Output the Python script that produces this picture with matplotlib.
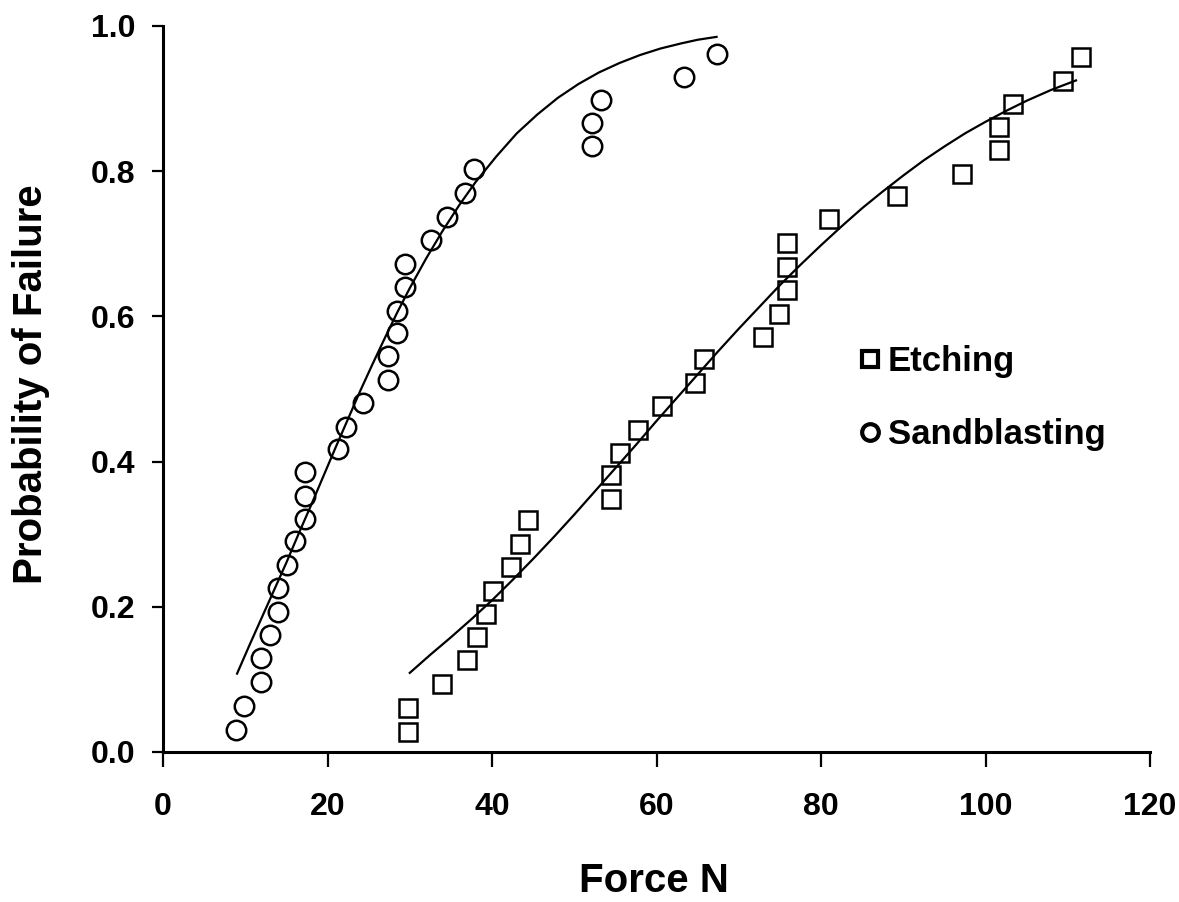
import matplotlib
matplotlib.use("Agg")
import matplotlib.pyplot as plt
from matplotlib.lines import Line2D

# ---- data ----
sand_force = [8.9, 9.9, 11.9, 11.9, 13.0, 14.0, 14.0, 15.1, 16.1, 17.2, 17.2, 17.2,
              21.3, 22.3, 24.3, 27.4, 27.4, 28.5, 28.5, 29.4, 29.4, 32.6, 34.5, 36.7,
              37.8, 52.1, 52.1, 53.2, 63.4, 67.3]
sand_prob = [0.030, 0.063, 0.097, 0.130, 0.161, 0.193, 0.226, 0.258, 0.290, 0.321, 0.353, 0.385,
             0.417, 0.448, 0.481, 0.512, 0.545, 0.577, 0.608, 0.640, 0.672, 0.705, 0.737, 0.770,
             0.803, 0.834, 0.866, 0.898, 0.930, 0.961]

etch_force = [29.8, 29.8, 33.9, 37.0, 38.2, 39.3, 40.1, 42.3, 43.4, 44.4, 54.5, 54.5,
              55.6, 57.7, 60.7, 64.7, 65.8, 72.9, 74.9, 75.9, 75.9, 75.9, 81.0, 89.2,
              97.2, 101.6, 101.6, 103.4, 109.4, 111.6]
etch_prob = [0.028, 0.061, 0.094, 0.127, 0.159, 0.190, 0.222, 0.255, 0.287, 0.319, 0.349, 0.381,
             0.412, 0.444, 0.476, 0.508, 0.541, 0.571, 0.603, 0.636, 0.668, 0.701, 0.734, 0.766,
             0.796, 0.829, 0.861, 0.892, 0.924, 0.957]

# fitted curves
sand_fit_x = [9, 10.5, 12, 13.5, 15, 16.5, 18, 19.5, 21, 22.5, 24, 25.5, 27, 28.5, 30, 32, 34, 36, 38,
              40.5, 43, 45.5, 48, 50.5, 53, 55.5, 58, 60.5, 63, 65, 67.3]
sand_fit_y = [0.108, 0.147, 0.185, 0.223, 0.261, 0.301, 0.340, 0.380, 0.420, 0.459, 0.498, 0.535,
              0.571, 0.606, 0.639, 0.680, 0.718, 0.753, 0.785, 0.820, 0.852, 0.878, 0.901, 0.920,
              0.936, 0.949, 0.960, 0.969, 0.976, 0.981, 0.985]

etch_fit_x = [30, 32.5, 35, 37.5, 40, 42.5, 45, 47.5, 50, 52.5, 55, 57.5, 60, 62.5, 65, 67.5, 70,
              72.5, 75, 77.5, 80, 82.5, 85, 87.5, 90, 92.5, 95, 97.5, 100, 102.5, 105, 108, 111]
etch_fit_y = [0.109, 0.134, 0.158, 0.183, 0.209, 0.237, 0.266, 0.296, 0.327, 0.359, 0.391, 0.423,
              0.456, 0.488, 0.520, 0.552, 0.583, 0.613, 0.643, 0.671, 0.698, 0.724, 0.749, 0.772,
              0.794, 0.815, 0.834, 0.852, 0.868, 0.883, 0.897, 0.912, 0.925]

x_ticks = [0, 20, 40, 60, 80, 100, 120]
y_ticks = [0.0, 0.2, 0.4, 0.6, 0.8, 1.0]
y_tick_labels = ["0.0", "0.2", "0.4", "0.6", "0.8", "1.0"]
x_label = "Force N"
y_label = "Probability of Failure"
legend_labels = ["Etching", "Sandblasting"]

FONT = "Liberation Sans"

fig = plt.figure(figsize=(11.79, 9.02), dpi=100)
ax = fig.add_axes([0.1383, 0.1663, 0.8371, 0.8049])

ax.plot(sand_fit_x, sand_fit_y, color="black", lw=1.6, zorder=2)
ax.plot(etch_fit_x, etch_fit_y, color="black", lw=1.6, zorder=2)
ax.plot(sand_force, sand_prob, linestyle="none", marker="o", markersize=14,
        markerfacecolor="none", markeredgecolor="black", markeredgewidth=1.8, zorder=3)
ax.plot(etch_force, etch_prob, linestyle="none", marker="s", markersize=13.5,
        markerfacecolor="none", markeredgecolor="black", markeredgewidth=1.8, zorder=3)

ax.set_xlim(0, 120)
ax.set_ylim(0, 1.0)
for s in ["top", "right"]:
    ax.spines[s].set_visible(False)
for s in ["left", "bottom"]:
    ax.spines[s].set_linewidth(2.2)

ax.set_xticks(x_ticks)
ax.set_xticklabels([str(t) for t in x_ticks], fontfamily=FONT, fontweight="bold", fontsize=23)
ax.set_yticks(y_ticks)
ax.set_yticklabels(y_tick_labels, fontfamily=FONT, fontweight="bold", fontsize=23)
ax.tick_params(axis="x", direction="out", length=11, width=1.6, pad=18)
ax.tick_params(axis="y", direction="out", length=8, width=1.6, pad=12)

ax.set_xlabel(x_label, fontfamily=FONT, fontweight="bold", fontsize=29)
ax.xaxis.label.set_va("baseline")
ax.xaxis.set_label_coords(0.497, -0.193)
ax.set_ylabel(y_label, fontfamily=FONT, fontweight="bold", fontsize=29)
ax.yaxis.set_label_coords(-0.1145, 0.506)

handles = [
    Line2D([], [], linestyle="none", marker="s", markersize=12, markerfacecolor="none",
           markeredgecolor="black", markeredgewidth=3.0),
    Line2D([], [], linestyle="none", marker="o", markersize=12, markerfacecolor="none",
           markeredgecolor="black", markeredgewidth=3.0),
]
leg = ax.legend(handles, legend_labels, loc="center left", bbox_to_anchor=(0.707, 0.4876),
                frameon=False, borderpad=0, borderaxespad=0, handlelength=0.55,
                handletextpad=0.22, labelspacing=1.15,
                prop={"family": FONT, "weight": "bold", "size": 25})

fig.savefig("out.png", dpi=100, facecolor="white")
